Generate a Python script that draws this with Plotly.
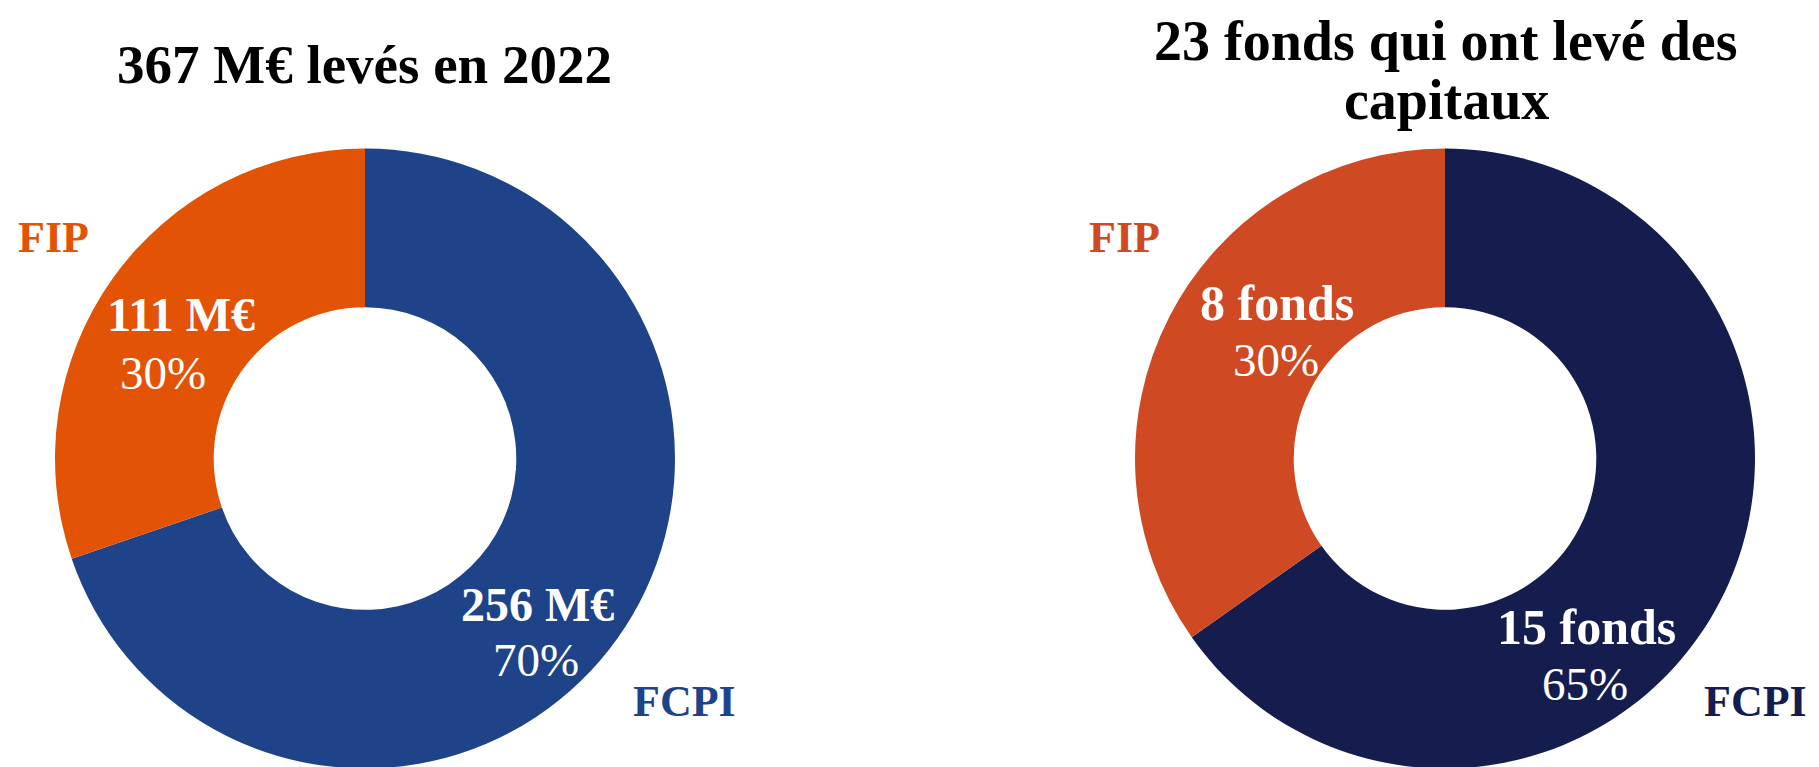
import plotly.graph_objects as go

categories = ["FCPI", "FIP"]
amounts = [256, 111]                 # M€ levés en 2022
amount_labels = ["256 M€", "111 M€"]
amount_pcts = ["70%", "30%"]
funds = [15, 8]                      # nombre de fonds
fund_labels = ["15 fonds", "8 fonds"]
fund_pcts = ["65%", "30%"]

colors_left = ["#1F4389", "#E35306"]
colors_right = ["#151D4E", "#CF4922"]

W, H = 1819, 767
SERIF = "Liberation Serif"

def px(x, y):
    return x / W, 1 - y / H

fig = go.Figure()
fig.add_trace(go.Pie(
    labels=categories, values=amounts, hole=0.488, sort=False,
    direction="clockwise", rotation=0,
    marker=dict(colors=colors_left, line=dict(width=0)),
    textinfo="none",
    domain=dict(x=[47 / W, 667 / W], y=[6.5 / H, 626.5 / H]),
    showlegend=False, hoverinfo="label+value",
))
fig.add_trace(go.Pie(
    labels=categories, values=funds, hole=0.488, sort=False,
    direction="clockwise", rotation=0,
    marker=dict(colors=colors_right, line=dict(width=0)),
    textinfo="none",
    domain=dict(x=[1127 / W, 1747 / W], y=[6.5 / H, 626.5 / H]),
    showlegend=False, hoverinfo="label+value",
))

def ann(text, x, y, color, size, xanchor="center", yanchor="middle"):
    ax, ay = px(x, y)
    fig.add_annotation(text=text, x=ax, y=ay, xref="paper", yref="paper",
                       xanchor=xanchor, yanchor=yanchor, showarrow=False,
                       font=dict(family=SERIF, size=size, color=color))

# titles
ann("<b>367 M€ levés en 2022</b>", 356, 56, "black", 55)
ann("<b>23 fonds qui ont levé des</b>", 1437.5, 0, "black", 56, yanchor="top")
ann("<b>capitaux</b>", 1438, 92, "black", 56)

# category labels
ann("<b>FIP</b>", 7.5, 229, colors_left[1], 44, "left")
ann("<b>FCPI</b>", 623, 693, colors_left[0], 44, "left")
ann("<b>FIP</b>", 1078.5, 229, colors_right[1], 44, "left")
ann("<b>FCPI</b>", 1693.5, 693, colors_right[0], 44, "left")

# inside labels (left donut)
ann(f"<b>{amount_labels[1]}</b>", 173, 306.5, "white", 48)
ann(amount_pcts[1], 154.5, 364.5, "white", 47)
ann(f"<b>{amount_labels[0]}</b>", 529, 596.5, "white", 48)
ann(amount_pcts[0], 527.5, 652, "white", 47)

# inside labels (right donut)
ann(f"<b>{fund_labels[1]}</b>", 1269, 295, "white", 50)
ann(fund_pcts[1], 1268, 352, "white", 47)
ann(f"<b>{fund_labels[0]}</b>", 1578, 618.5, "white", 50)
ann(fund_pcts[0], 1577, 675.5, "white", 47)

fig.update_layout(
    width=W, height=H, margin=dict(l=0, r=0, t=0, b=0),
    paper_bgcolor="white", plot_bgcolor="white",
)
fig.write_html("out.html")
